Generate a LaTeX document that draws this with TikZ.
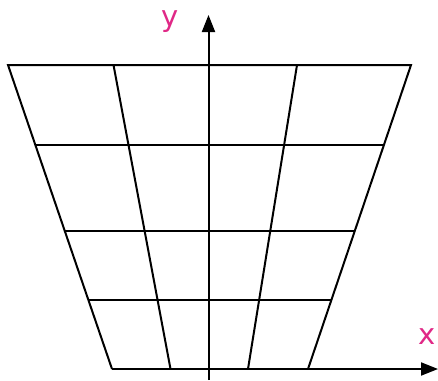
\documentclass[tikz,border=0pt]{standalone}
\usepackage{fontspec}
\setmainfont{DejaVu Sans}
\usetikzlibrary{arrows.meta,calc}
\definecolor{lblpink}{RGB}{224,40,134}
\begin{document}
\begin{tikzpicture}[x=1pt,y=-1pt,
  gridline/.style={line width=2pt,line cap=butt,line join=miter},
  axisline/.style={line width=2pt,-{Triangle[length=17pt,width=13pt]}},
  axlabel/.style={text=lblpink,font=\fontsize{29}{29}\selectfont,inner sep=0pt}]
\useasboundingbox (0,0) rectangle (438,380);
% corners
\coordinate (TL) at (8,65);
\coordinate (TR) at (411,65);
\coordinate (BL) at (112,369);
\coordinate (BR) at (308,369);
\coordinate (T1) at (113.5,65);
\coordinate (T2) at (297,65);
\coordinate (B1) at (170.5,369);
\coordinate (B2) at (248,369);
% outline
\draw[gridline] (BL) -- (TL) -- (TR) -- (BR);
\draw[gridline] (T1) -- (B1);
\draw[gridline] (T2) -- (B2);
% horizontal rungs
\foreach \t/\n in {0.2632/a,0.5461/b,0.7730/c}{
  \coordinate (L\n) at ($(TL)!\t!(BL)$);
  \coordinate (R\n) at ($(TR)!\t!(BR)$);
  \draw[gridline] (L\n) -- (R\n);
}
% axes
\coordinate (yb) at (208.5,380);
\coordinate (yt) at (208.5,15);
\coordinate (xr) at (438,369);
\draw[axisline] (BL) -- (xr);
\draw[axisline] (yb) -- (yt);
\node[axlabel] (ylab) at (170.5,22) {y};
\node[axlabel] (xlab) at (427,337) {x};
\end{tikzpicture}
\end{document}
